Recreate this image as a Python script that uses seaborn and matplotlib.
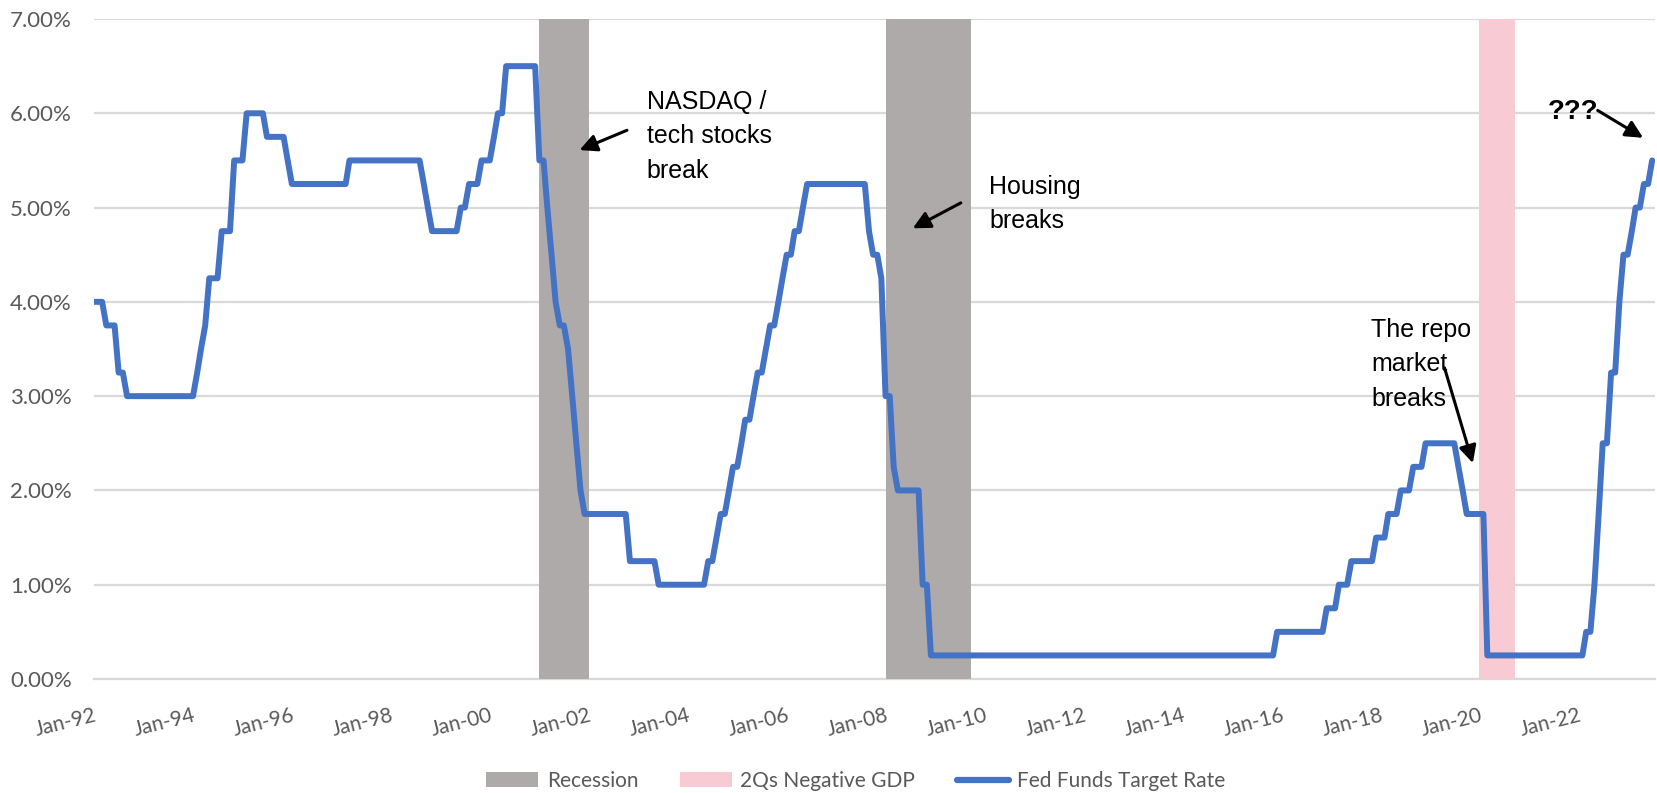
import matplotlib
matplotlib.use("Agg")
import matplotlib.pyplot as plt
import matplotlib.dates as mdates
from matplotlib.patches import Patch
from matplotlib.lines import Line2D
from matplotlib.ticker import FuncFormatter, MultipleLocator
import numpy as np
import pandas as pd
import seaborn as sns

# Fed funds target rate (upper bound, %) — month of each change and the new level
CHANGE_MONTHS = [
    "1992-01", "1992-04", "1992-07", "1992-09",
    "1994-02", "1994-03", "1994-04", "1994-05", "1994-08", "1994-11",
    "1995-02", "1995-07", "1995-12", "1996-01", "1997-03",
    "1998-09", "1998-10", "1998-11", "1999-06", "1999-08", "1999-11",
    "2000-02", "2000-03", "2000-05",
    "2001-01", "2001-03", "2001-04", "2001-05", "2001-06", "2001-08",
    "2001-09", "2001-10", "2001-11", "2001-12", "2002-11", "2003-06",
    "2004-06", "2004-08", "2004-09", "2004-11", "2004-12",
    "2005-02", "2005-03", "2005-05", "2005-06", "2005-08", "2005-09",
    "2005-11", "2005-12", "2006-01", "2006-03", "2006-05", "2006-06",
    "2007-09", "2007-10", "2007-12", "2008-01", "2008-03", "2008-04",
    "2008-10", "2008-12",
    "2015-12", "2016-12", "2017-03", "2017-06", "2017-12",
    "2018-03", "2018-06", "2018-09", "2018-12",
    "2019-08", "2019-09", "2019-10", "2020-03",
    "2022-03", "2022-05", "2022-06", "2022-07", "2022-09", "2022-11",
    "2022-12", "2023-02", "2023-03", "2023-05", "2023-07",
]
CHANGE_RATES = [
    4.00, 3.75, 3.25, 3.00,
    3.25, 3.50, 3.75, 4.25, 4.75, 5.50,
    6.00, 5.75, 5.50, 5.25, 5.50,
    5.25, 5.00, 4.75, 5.00, 5.25, 5.50,
    5.75, 6.00, 6.50,
    5.50, 5.00, 4.50, 4.00, 3.75, 3.50,
    3.00, 2.50, 2.00, 1.75, 1.25, 1.00,
    1.25, 1.50, 1.75, 2.00, 2.25,
    2.50, 2.75, 3.00, 3.25, 3.50, 3.75,
    4.00, 4.25, 4.50, 4.75, 5.00, 5.25,
    4.75, 4.50, 4.25, 3.00, 2.25, 2.00,
    1.00, 0.25,
    0.50, 0.75, 1.00, 1.25, 1.50,
    1.75, 2.00, 2.25, 2.50,
    2.25, 2.00, 1.75, 0.25,
    0.50, 1.00, 1.75, 2.50, 3.25, 4.00,
    4.50, 4.75, 5.00, 5.25, 5.50,
]
SERIES_START = "1992-01"
SERIES_END = "2023-07"

# Shaded periods
RECESSION_STARTS = ["2001-01-01", "2008-01-01"]
RECESSION_ENDS = ["2002-01-01", "2009-09-20"]
NEG_GDP_STARTS = ["2020-01-01"]
NEG_GDP_ENDS = ["2020-09-20"]

LEGEND_LABELS = ["Recession", "2Qs Negative GDP", "Fed Funds Target Rate"]

BLUE = "#4472C4"
GREY_BAND = "#AEAAAA"
PINK_BAND = "#F8CBD4"
GRID = "#D9D9D9"
TICK_TEXT = "#595959"

# Monthly target-rate series: each month carries the level last set by the Fed
months = pd.period_range(SERIES_START, SERIES_END, freq="M").to_timestamp()
changes = pd.Series(CHANGE_RATES, index=pd.PeriodIndex(CHANGE_MONTHS, freq="M").to_timestamp())
rate = changes.reindex(months).ffill()
df = pd.DataFrame({"date": months, "rate": rate.values})

sns.set_theme(style="white")
plt.rcParams["font.family"] = ["Lato", "DejaVu Sans"]

W, H = 1658, 793
fig = plt.figure(figsize=(W / 100, H / 100), dpi=100)
L, R, T, B = 94, 1655, 19, 679
ax = fig.add_axes([L / W, 1 - B / H, (R - L) / W, (B - T) / H])

for s, e in zip(RECESSION_STARTS, RECESSION_ENDS):
    ax.axvspan(pd.Timestamp(s), pd.Timestamp(e), color=GREY_BAND, lw=0, zorder=1)
for s, e in zip(NEG_GDP_STARTS, NEG_GDP_ENDS):
    ax.axvspan(pd.Timestamp(s), pd.Timestamp(e), color=PINK_BAND, lw=0, zorder=1)

sns.lineplot(data=df, x="date", y="rate", ax=ax, color=BLUE, linewidth=4.3,
             solid_joinstyle="round", solid_capstyle="round", zorder=3)

ax.set_xlim(pd.Timestamp("1992-01-01"), pd.Timestamp("2023-07-22"))
ax.set_ylim(0, 7)
ax.yaxis.set_major_locator(MultipleLocator(1))
ax.yaxis.set_major_formatter(FuncFormatter(lambda v, p: f"{v:.2f}%"))
ax.xaxis.set_major_locator(mdates.YearLocator(2, month=1, day=1))
ax.xaxis.set_major_formatter(mdates.DateFormatter("%b-%y"))
ax.set_xlabel("")
ax.set_ylabel("")

ax.grid(axis="y", color=GRID, lw=1.6, zorder=0)
ax.grid(axis="x", visible=False)
ax.set_axisbelow(True)
for side in ["left", "right", "top"]:
    ax.spines[side].set_visible(False)
ax.spines["bottom"].set_color(GRID)
ax.spines["bottom"].set_linewidth(1.6)
ax.spines["bottom"].set_zorder(0.5)

ax.tick_params(axis="y", length=0, pad=16, labelsize=16, labelcolor=TICK_TEXT)
ax.tick_params(axis="x", length=5, width=1.6, color=GRID, pad=14,
               labelsize=15, labelcolor=TICK_TEXT, direction="out")
for lab in ax.get_xticklabels():
    lab.set_rotation(14)
    lab.set_ha("right")
    lab.set_va("top")
    lab.set_rotation_mode("anchor")

# Annotations
ann_font = dict(family=["Liberation Sans", "DejaVu Sans"], fontsize=18, color="black")
arrow = dict(arrowstyle="-|>", color="black", lw=2.2, mutation_scale=26,
             shrinkA=0, shrinkB=0)

ax.text(pd.Timestamp("2003-03-05"), 6.25, "NASDAQ /\ntech stocks\nbreak",
        ha="left", va="top", linespacing=1.55, **ann_font)
ax.annotate("", xy=(pd.Timestamp("2001-10-25"), 5.61),
            xytext=(pd.Timestamp("2002-10-10"), 5.82), arrowprops=arrow)

ax.text(pd.Timestamp("2010-02-05"), 5.35, "Housing\nbreaks",
        ha="left", va="top", linespacing=1.55, **ann_font)
ax.annotate("", xy=(pd.Timestamp("2008-07-20"), 4.78),
            xytext=(pd.Timestamp("2009-07-10"), 5.05), arrowprops=arrow)

ax.text(pd.Timestamp("2017-10-25"), 3.83, "The repo\nmarket\nbreaks",
        ha="left", va="top", linespacing=1.55, **ann_font)
ax.annotate("", xy=(pd.Timestamp("2019-11-15"), 2.29),
            xytext=(pd.Timestamp("2019-04-20"), 3.30), arrowprops=arrow)

ax.text(pd.Timestamp("2021-05-25"), 6.01, "???", ha="left", va="center",
        family=["Liberation Sans", "DejaVu Sans"], fontsize=20,
        fontweight="bold", color="black")
ax.annotate("", xy=(pd.Timestamp("2023-04-25"), 5.74),
            xytext=(pd.Timestamp("2022-05-25"), 6.03), arrowprops=arrow)

handles = [
    Patch(facecolor=GREY_BAND, edgecolor="none"),
    Patch(facecolor=PINK_BAND, edgecolor="none"),
    Line2D([0], [0], color=BLUE, lw=4.5, solid_capstyle="round"),
]
leg = fig.legend(handles, LEGEND_LABELS, loc="center", ncol=3,
                 bbox_to_anchor=(856 / W, 1 - 781 / H), frameon=False,
                 fontsize=15, handlelength=2.5, handleheight=0.7,
                 handletextpad=0.4, columnspacing=2.0)
for t in leg.get_texts():
    t.set_color(TICK_TEXT)

fig.savefig("out.png", dpi=100)
